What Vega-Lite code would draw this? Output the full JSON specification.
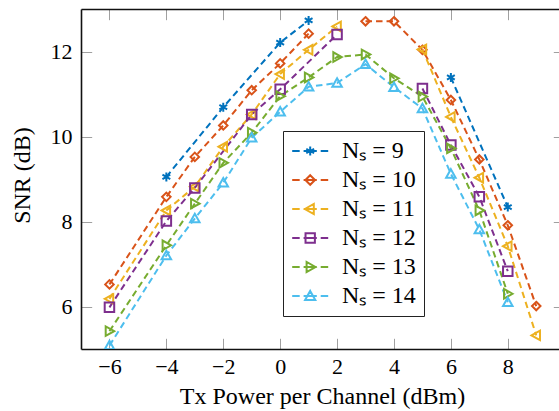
{
  "$schema": "https://vega.github.io/schema/vega-lite/v6.json",
  "width": 478,
  "height": 340,
  "autosize": {"type": "none"},
  "padding": {"left": 81, "top": 9, "right": 0, "bottom": 62},
  "config": {
    "view": {"stroke": null},
    "font": "Liberation Serif",
    "axis": {
      "grid": false,
      "labelFont": "Liberation Serif",
      "titleFont": "Liberation Serif",
      "labelColor": "black",
      "titleColor": "black",
      "titleFontWeight": "normal",
      "labelFontSize": 22,
      "titleFontSize": 24,
      "tickColor": "#a0a0a0",
      "tickWidth": 1,
      "tickSize": -10.7,
      "domainColor": "#111111",
      "domainWidth": 1.6
    }
  },
  "data": {
    "values": [
      {"s": "Nₛ = 9", "seg": "a", "x": -4, "snr": 9.05},
      {"s": "Nₛ = 9", "seg": "a", "x": -2, "snr": 10.69},
      {"s": "Nₛ = 9", "seg": "a", "x": 0, "snr": 12.21},
      {"s": "Nₛ = 9", "seg": "a", "x": 1, "snr": 12.73},
      {"s": "Nₛ = 9", "seg": "b", "x": 6, "snr": 11.39},
      {"s": "Nₛ = 9", "seg": "b", "x": 8, "snr": 8.34},

      {"s": "Nₛ = 10", "seg": "a", "x": -6, "snr": 6.52},
      {"s": "Nₛ = 10", "seg": "a", "x": -4, "snr": 8.58},
      {"s": "Nₛ = 10", "seg": "a", "x": -3, "snr": 9.52},
      {"s": "Nₛ = 10", "seg": "a", "x": -2, "snr": 10.26},
      {"s": "Nₛ = 10", "seg": "a", "x": -1, "snr": 11.09},
      {"s": "Nₛ = 10", "seg": "a", "x": 0, "snr": 11.72},
      {"s": "Nₛ = 10", "seg": "a", "x": 1, "snr": 12.42},
      {"s": "Nₛ = 10", "seg": "b", "x": 3, "snr": 12.71},
      {"s": "Nₛ = 10", "seg": "b", "x": 4, "snr": 12.71},
      {"s": "Nₛ = 10", "seg": "b", "x": 5, "snr": 12.04},
      {"s": "Nₛ = 10", "seg": "b", "x": 6, "snr": 10.86},
      {"s": "Nₛ = 10", "seg": "b", "x": 7, "snr": 9.46},
      {"s": "Nₛ = 10", "seg": "b", "x": 8, "snr": 7.91},
      {"s": "Nₛ = 10", "seg": "b", "x": 9, "snr": 6.01},

      {"s": "Nₛ = 11", "seg": "a", "x": -6, "snr": 6.18},
      {"s": "Nₛ = 11", "seg": "a", "x": -4, "snr": 8.26},
      {"s": "Nₛ = 11", "seg": "a", "x": -3, "snr": 8.82},
      {"s": "Nₛ = 11", "seg": "a", "x": -2, "snr": 9.76},
      {"s": "Nₛ = 11", "seg": "a", "x": -1, "snr": 10.52},
      {"s": "Nₛ = 11", "seg": "a", "x": 0, "snr": 11.47},
      {"s": "Nₛ = 11", "seg": "a", "x": 1, "snr": 12.04},
      {"s": "Nₛ = 11", "seg": "a", "x": 2, "snr": 12.59},
      {"s": "Nₛ = 11", "seg": "b", "x": 5, "snr": 12.05},
      {"s": "Nₛ = 11", "seg": "b", "x": 6, "snr": 10.46},
      {"s": "Nₛ = 11", "seg": "b", "x": 7, "snr": 9.03},
      {"s": "Nₛ = 11", "seg": "b", "x": 8, "snr": 7.42},
      {"s": "Nₛ = 11", "seg": "b", "x": 9, "snr": 5.32},

      {"s": "Nₛ = 12", "seg": "a", "x": -6, "snr": 5.98},
      {"s": "Nₛ = 12", "seg": "a", "x": -4, "snr": 8.01},
      {"s": "Nₛ = 12", "seg": "a", "x": -3, "snr": 8.79},
      {"s": "Nₛ = 12", "seg": "a", "x": -1, "snr": 10.52},
      {"s": "Nₛ = 12", "seg": "a", "x": 0, "snr": 11.11},
      {"s": "Nₛ = 12", "seg": "a", "x": 2, "snr": 12.4},
      {"s": "Nₛ = 12", "seg": "b", "x": 5, "snr": 11.13},
      {"s": "Nₛ = 12", "seg": "b", "x": 6, "snr": 9.8},
      {"s": "Nₛ = 12", "seg": "b", "x": 7, "snr": 8.58},
      {"s": "Nₛ = 12", "seg": "b", "x": 8, "snr": 6.83},

      {"s": "Nₛ = 13", "seg": "a", "x": -6, "snr": 5.42},
      {"s": "Nₛ = 13", "seg": "a", "x": -4, "snr": 7.44},
      {"s": "Nₛ = 13", "seg": "a", "x": -3, "snr": 8.42},
      {"s": "Nₛ = 13", "seg": "a", "x": -2, "snr": 9.38},
      {"s": "Nₛ = 13", "seg": "a", "x": -1, "snr": 10.09},
      {"s": "Nₛ = 13", "seg": "a", "x": 0, "snr": 10.95},
      {"s": "Nₛ = 13", "seg": "a", "x": 1, "snr": 11.39},
      {"s": "Nₛ = 13", "seg": "a", "x": 2, "snr": 11.87},
      {"s": "Nₛ = 13", "seg": "a", "x": 3, "snr": 11.93},
      {"s": "Nₛ = 13", "seg": "a", "x": 4, "snr": 11.37},
      {"s": "Nₛ = 13", "seg": "a", "x": 5, "snr": 10.94},
      {"s": "Nₛ = 13", "seg": "a", "x": 6, "snr": 9.72},
      {"s": "Nₛ = 13", "seg": "a", "x": 7, "snr": 8.26},
      {"s": "Nₛ = 13", "seg": "a", "x": 8, "snr": 6.3},

      {"s": "Nₛ = 14", "seg": "a", "x": -6, "snr": 5.08},
      {"s": "Nₛ = 14", "seg": "a", "x": -4, "snr": 7.2},
      {"s": "Nₛ = 14", "seg": "a", "x": -3, "snr": 8.07},
      {"s": "Nₛ = 14", "seg": "a", "x": -2, "snr": 8.91},
      {"s": "Nₛ = 14", "seg": "a", "x": -1, "snr": 9.97},
      {"s": "Nₛ = 14", "seg": "a", "x": 0, "snr": 10.58},
      {"s": "Nₛ = 14", "seg": "a", "x": 1, "snr": 11.17},
      {"s": "Nₛ = 14", "seg": "a", "x": 2, "snr": 11.26},
      {"s": "Nₛ = 14", "seg": "a", "x": 3, "snr": 11.7},
      {"s": "Nₛ = 14", "seg": "a", "x": 4, "snr": 11.16},
      {"s": "Nₛ = 14", "seg": "a", "x": 5, "snr": 10.66},
      {"s": "Nₛ = 14", "seg": "a", "x": 6, "snr": 9.12},
      {"s": "Nₛ = 14", "seg": "a", "x": 7, "snr": 7.81},
      {"s": "Nₛ = 14", "seg": "a", "x": 8, "snr": 6.1}
    ]
  },
  "layer": [
    {
      "mark": {"type": "line", "strokeWidth": 2, "strokeDash": [6.5, 4], "clip": true},
      "encoding": {
        "x": {
          "field": "x", "type": "quantitative",
          "scale": {"domain": [-7, 9.8], "nice": false, "zero": false},
          "axis": {
            "orient": "bottom", "values": [-6, -4, -2, 0, 2, 4, 6, 8], "format": "d",
            "title": "Tx Power per Channel (dBm)", "labelPadding": 18,
            "titleX": 241, "titleY": 54, "titleBaseline": "alphabetic", "titleAlign": "center"
          }
        },
        "y": {
          "field": "snr", "type": "quantitative",
          "scale": {"domain": [5, 13], "nice": false, "zero": false},
          "axis": {
            "orient": "left", "values": [6, 8, 10, 12], "format": "d",
            "title": "SNR (dB)", "labelPadding": 19.7,
            "titleX": -51.7, "titleY": 166, "titleBaseline": "alphabetic", "titleAlign": "center", "titleAngle": 270
          }
        },
        "color": {
          "field": "s", "type": "nominal",
          "scale": {
            "domain": ["Nₛ = 9", "Nₛ = 10", "Nₛ = 11", "Nₛ = 12", "Nₛ = 13", "Nₛ = 14"],
            "range": ["#0072BD", "#D95319", "#EDB120", "#7E2F8E", "#77AC30", "#4DBEEE"]
          },
          "legend": null
        },
        "detail": {"field": "seg"}
      }
    },
    {
      "mark": {"type": "point", "filled": false, "strokeWidth": 2, "size": 100, "opacity": 1, "clip": true},
      "encoding": {
        "x": {
          "field": "x", "type": "quantitative",
          "scale": {"domain": [-7, 9.8], "nice": false, "zero": false},
          "axis": {"orient": "top", "values": [-6, -4, -2, 0, 2, 4, 6, 8], "labels": false, "title": null}
        },
        "y": {
          "field": "snr", "type": "quantitative",
          "scale": {"domain": [5, 13], "nice": false, "zero": false},
          "axis": {"orient": "right", "values": [6, 8, 10, 12], "labels": false, "title": null, "domain": false, "offset": 5}
        },
        "color": {
          "field": "s", "type": "nominal",
          "scale": {
            "domain": ["Nₛ = 9", "Nₛ = 10", "Nₛ = 11", "Nₛ = 12", "Nₛ = 13", "Nₛ = 14"],
            "range": ["#0072BD", "#D95319", "#EDB120", "#7E2F8E", "#77AC30", "#4DBEEE"]
          },
          "legend": null
        },
        "shape": {
          "field": "s", "type": "nominal",
          "scale": {
            "domain": ["Nₛ = 9", "Nₛ = 10", "Nₛ = 11", "Nₛ = 12", "Nₛ = 13", "Nₛ = 14"],
            "range": [
              "M0,-0.9L0,0.9M-0.78,-0.45L0.78,0.45M-0.78,0.45L0.78,-0.45",
              "M0,-0.85L0.85,0L0,0.85L-0.85,0Z",
              "M-0.95,0L0.75,-0.95L0.75,0.95Z",
              "M-0.95,-0.95L0.95,-0.95L0.95,0.95L-0.95,0.95Z",
              "M0.95,0L-0.75,-0.95L-0.75,0.95Z",
              "M0,-0.95L0.95,0.75L-0.95,0.75Z"
            ]
          },
          "legend": null
        }
      }
    },
    {
      "mark": {"type": "point", "filled": false, "strokeWidth": 2, "size": 0, "opacity": 1},
      "encoding": {
        "x": {"field": "x", "type": "quantitative", "scale": {"domain": [-7, 9.8], "nice": false, "zero": false}, "axis": null},
        "y": {"field": "snr", "type": "quantitative", "scale": {"domain": [5, 13], "nice": false, "zero": false}, "axis": null},
        "color": {
          "field": "s", "type": "nominal",
          "scale": {
            "domain": ["Nₛ = 9", "Nₛ = 10", "Nₛ = 11", "Nₛ = 12", "Nₛ = 13", "Nₛ = 14"],
            "range": ["#0072BD", "#D95319", "#EDB120", "#7E2F8E", "#77AC30", "#4DBEEE"]
          },
          "legend": {
            "orient": "none", "legendX": 202, "legendY": 122, "title": null,
            "strokeColor": "#222222", "fillColor": "white", "padding": 8,
            "labelFont": "Liberation Serif", "labelFontSize": 24, "labelColor": "black",
            "symbolSize": 144, "symbolStrokeWidth": 2, "symbolOpacity": 1,
            "labelOffset": 27, "rowPadding": 5
          }
        },
        "shape": {
          "field": "s", "type": "nominal",
          "scale": {
            "domain": ["Nₛ = 9", "Nₛ = 10", "Nₛ = 11", "Nₛ = 12", "Nₛ = 13", "Nₛ = 14"],
            "range": [
              "M-1.8,0L-0.55,0M0.1,0L2.3,0M2.95,0L4.2,0M1.2,-0.75L1.2,0.75M0.55,-0.375L1.85,0.375M0.55,0.375L1.85,-0.375",
              "M-1.8,0L-0.55,0M0.1,0L2.3,0M2.95,0L4.2,0M1.2,-0.8L2,0L1.2,0.8L0.4,0Z",
              "M-1.8,0L-0.55,0M0.1,0L2.3,0M2.95,0L4.2,0M0.3,0L1.8,-0.85L1.8,0.85Z",
              "M-1.8,0L-0.55,0M0.1,0L2.3,0M2.95,0L4.2,0M0.42,-0.78L1.98,-0.78L1.98,0.78L0.42,0.78Z",
              "M-1.8,0L-0.55,0M0.1,0L2.3,0M2.95,0L4.2,0M2.1,0L0.6,-0.85L0.6,0.85Z",
              "M-1.8,0L-0.55,0M0.1,0L2.3,0M2.95,0L4.2,0M1.2,-0.85L2.05,0.65L0.35,0.65Z"
            ]
          },
          "legend": {
            "orient": "none", "legendX": 202, "legendY": 122, "title": null,
            "strokeColor": "#222222", "fillColor": "white", "padding": 8,
            "labelFont": "Liberation Serif", "labelFontSize": 24, "labelColor": "black",
            "symbolSize": 144, "symbolStrokeWidth": 2, "symbolOpacity": 1,
            "labelOffset": 27, "rowPadding": 5
          }
        }
      }
    }
  ],
  "resolve": {
    "scale": {"color": "independent", "shape": "independent"},
    "axis": {"x": "independent", "y": "independent"}
  }
}
